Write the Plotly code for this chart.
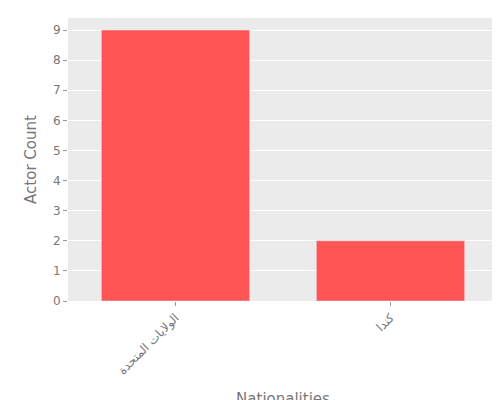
import plotly.graph_objects as go

nationalities = ["الولايات المتحدة", "كندا"]
actor_counts = [9, 2]

fig = go.Figure(go.Bar(x=nationalities, y=actor_counts, marker_color="#FF5555", width=0.69))
fig.update_layout(
    width=500, height=400,
    margin=dict(l=60, r=10, t=10, b=107),
    plot_bgcolor="#EBEBEB", paper_bgcolor="white",
    font=dict(family="DejaVu Sans", color="#777777", size=12),
    xaxis=dict(title=dict(text="Nationalities", font=dict(size=15), standoff=20), tickangle=-45,
               showgrid=False, ticks="outside", tickcolor="#999999", ticklen=4, automargin=False),
    yaxis=dict(title=dict(text="Actor Count", font=dict(size=15), standoff=12), range=[0, 9.4],
               dtick=1, gridcolor="white", ticks="outside", tickcolor="#999999", ticklen=4,
               zeroline=False, automargin=False),
    showlegend=False,
)
fig.write_html("out.html")
